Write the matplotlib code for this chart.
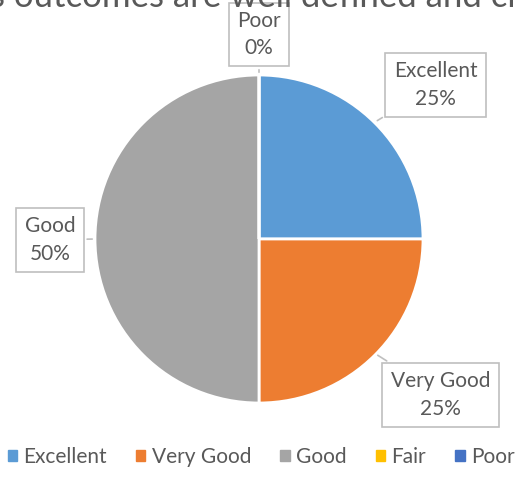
import matplotlib.pyplot as plt

# Data
labels = ['Excellent', 'Very Good', 'Good', 'Fair', 'Poor']
values = [25, 25, 50, 0, 0]
colors = ['#5b9bd5', '#ed7d31', '#a5a5a5', '#ffc000', '#4472c4']
title = 's outcomes are well defined and cl'

plt.rcParams['font.family'] = ['Lato', 'DejaVu Sans']

W, H = 522, 497
fig = plt.figure(figsize=(W / 100, H / 100), dpi=100)

# pie placed so its centre is at (259, 239) px with radius 164 px
cx, cy, r = 259, 239, 164
ax = fig.add_axes([(cx - r) / W, (H - cy - r) / H, 2 * r / W, 2 * r / H])
wedges, _ = ax.pie(values, colors=colors, startangle=90, counterclock=False,
                   wedgeprops=dict(edgecolor='white', linewidth=2))
ax.set_xlim(-1, 1)
ax.set_ylim(-1, 1)
ax.set_aspect('equal')
ax.axis('off')

# cropped title at the very top
fig.text(-10 / W, 1 - 7 / H, title, fontsize=25, color='#595959',
         ha='left', va='baseline')

# data label callouts: (text pos, point on pie)
total = sum(values)
callouts = {
    'Excellent': ((1.076, 0.939), (0.707, 0.713)),
    'Very Good': ((1.107, -0.951), (0.71, -0.70)),
    'Good': ((-1.274, -0.006), (-1.0, 0.0)),
    'Poor': ((0.0, 1.247), (0.0, 1.0)),
}
for name, (txt, pt) in callouts.items():
    v = values[labels.index(name)]
    ax.annotate(f'{name}\n{v / total:.0%}', xy=pt, xytext=txt,
                ha='center', va='center', fontsize=15, color='#595959',
                linespacing=1.45, annotation_clip=False,
                bbox=dict(boxstyle='square,pad=0.4', fc='white', ec='#bfbfbf', lw=1.2),
                arrowprops=dict(arrowstyle='-', color='#bfbfbf', lw=1.2))

handles = [plt.Rectangle((0, 0), 1, 1, color=c) for c in colors]
fig.legend(handles, labels, loc='center', bbox_to_anchor=(0.5, 1 - 457 / H),
           ncol=5, frameon=False, fontsize=15, handlelength=0.45, handleheight=0.45,
           handletextpad=0.3, columnspacing=1.4, labelcolor='#595959')

fig.savefig('out.png', dpi=100)
